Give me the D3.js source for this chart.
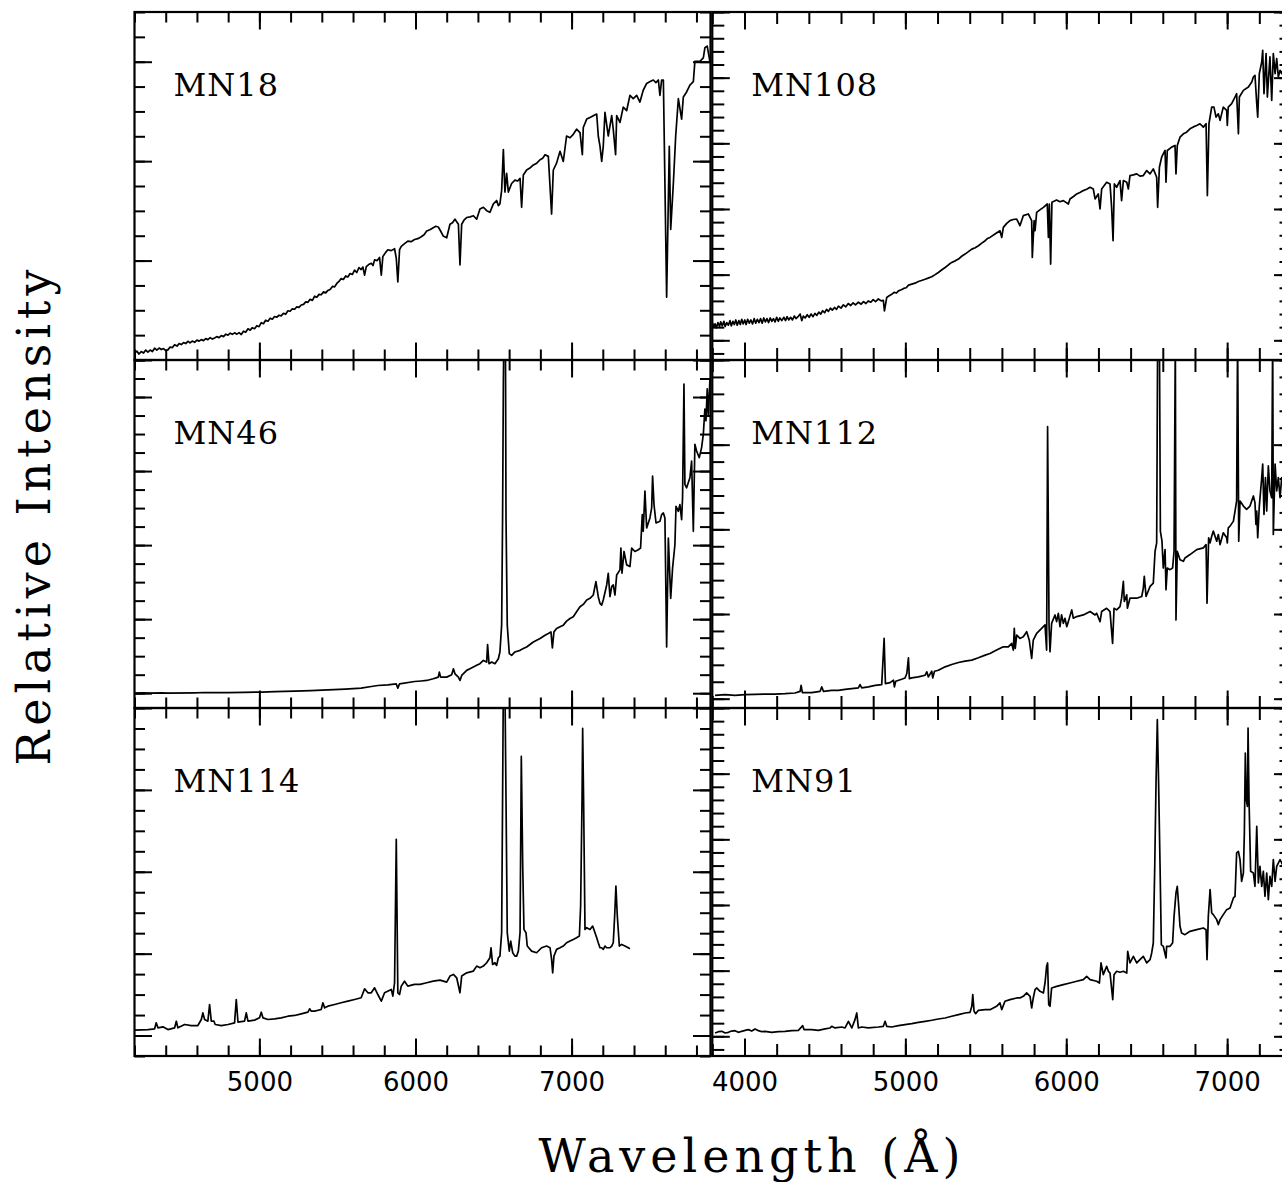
<!DOCTYPE html>
<html lang="en">
<head>
<meta charset="utf-8">
<script src="https://d3js.org/d3.v7.min.js"></script>
<style>
  body { margin: 0; background: #fff; }
</style>
</head>
<body>
<svg width="1282" height="1182"></svg>
<script>
// spectra as [wavelength (A), relative intensity]
var mn18 = [[4201,0.068],[4215,0.09],[4228,0.06],[4243,0.085],[4258,0.07],[4272,0.10],[4286,0.08],[4300,0.10],[4315,0.085],[4329,0.119],[4343,0.10],[4358,0.12],[4372,0.105],[4386,0.115],[4400,0.095],[4414,0.102],[4428,0.13],[4443,0.125],[4457,0.154],[4472,0.14],[4486,0.165],[4500,0.155],[4514,0.175],[4528,0.165],[4542,0.188],[4556,0.172],[4570,0.19],[4585,0.178],[4600,0.20],[4614,0.19],[4628,0.205],[4642,0.195],[4656,0.215],[4670,0.205],[4685,0.225],[4699,0.21],[4713,0.222],[4727,0.235],[4742,0.225],[4756,0.246],[4770,0.235],[4785,0.26],[4799,0.25],[4813,0.27],[4827,0.258],[4841,0.273],[4856,0.26],[4870,0.275],[4884,0.256],[4898,0.29],[4912,0.28],[4927,0.314],[4941,0.30],[4955,0.325],[4969,0.315],[4984,0.345],[4998,0.335],[5012,0.375],[5026,0.365],[5040,0.40],[5055,0.39],[5069,0.42],[5083,0.41],[5097,0.437],[5111,0.43],[5126,0.45],[5140,0.444],[5154,0.47],[5168,0.46],[5183,0.495],[5197,0.49],[5211,0.515],[5226,0.51],[5240,0.535],[5254,0.53],[5268,0.553],[5283,0.56],[5297,0.585],[5311,0.58],[5325,0.61],[5340,0.60],[5354,0.642],[5368,0.63],[5382,0.66],[5396,0.656],[5411,0.685],[5425,0.675],[5439,0.70],[5453,0.71],[5468,0.74],[5482,0.735],[5496,0.77],[5510,0.79],[5524,0.819],[5538,0.81],[5553,0.845],[5567,0.835],[5581,0.87],[5596,0.86],[5610,0.904],[5624,0.88],[5638,0.93],[5652,0.91],[5663,0.935],[5674,0.853],[5685,0.939],[5700,0.96],[5717,0.973],[5728,0.95],[5738,1.007],[5755,1.00],[5770,1.031],[5781,0.853],[5791,1.041],[5808,1.08],[5823,1.109],[5845,1.10],[5866,1.119],[5877,1.024],[5887,0.785],[5898,1.109],[5909,1.143],[5930,1.17],[5951,1.195],[5972,1.19],[5994,1.212],[6015,1.22],[6037,1.24],[6055,1.26],[6072,1.297],[6092,1.31],[6114,1.331],[6130,1.345],[6146,1.338],[6160,1.30],[6178,1.246],[6200,1.229],[6221,1.365],[6237,1.38],[6253,1.416],[6275,1.365],[6285,0.956],[6296,1.365],[6312,1.41],[6328,1.433],[6350,1.44],[6371,1.451],[6392,1.416],[6413,1.519],[6435,1.536],[6456,1.502],[6477,1.485],[6499,1.570],[6520,1.604],[6531,1.553],[6541,1.570],[6552,1.706],[6563,2.116],[6573,1.689],[6584,1.877],[6595,1.689],[6616,1.775],[6637,1.809],[6655,1.80],[6670,1.826],[6680,1.536],[6691,1.860],[6712,1.911],[6733,1.93],[6755,1.962],[6777,1.98],[6798,2.014],[6815,2.03],[6830,2.065],[6851,2.048],[6872,1.468],[6883,1.911],[6904,1.980],[6926,2.099],[6947,1.997],[6968,2.253],[6990,2.235],[7011,2.270],[7032,2.321],[7054,2.287],[7069,2.065],[7075,2.338],[7097,2.423],[7118,2.44],[7139,2.457],[7161,2.474],[7171,2.253],[7182,2.150],[7193,1.997],[7203,2.150],[7214,2.491],[7235,2.253],[7257,2.457],[7267,2.321],[7282,2.065],[7289,2.457],[7310,2.389],[7331,2.543],[7353,2.509],[7374,2.662],[7395,2.628],[7417,2.662],[7438,2.594],[7459,2.713],[7481,2.782],[7503,2.80],[7524,2.816],[7540,2.79],[7556,2.816],[7566,2.662],[7577,2.816],[7588,2.816],[7609,0.631],[7626,2.150],[7635,1.314],[7652,1.775],[7667,2.253],[7684,2.628],[7705,2.423],[7716,2.645],[7737,2.696],[7758,2.765],[7780,2.799],[7790,3.003],[7822,3.003],[7844,3.038],[7854,3.140],[7869,3.157],[7886,3.003]];

var mn46 = [[4201,0.0],[4250,0.005],[4300,0.0],[4372,0.005],[4420,0.002],[4585,0.005],[4650,0.009],[4799,0.009],[4900,0.012],[5012,0.014],[5100,0.02],[5226,0.027],[5330,0.036],[5439,0.045],[5550,0.055],[5652,0.068],[5717,0.09],[5759,0.104],[5823,0.113],[5877,0.125],[5887,0.068],[5898,0.127],[5994,0.158],[6037,0.165],[6072,0.172],[6114,0.195],[6146,0.217],[6153,0.285],[6161,0.217],[6200,0.217],[6232,0.249],[6243,0.330],[6253,0.262],[6275,0.217],[6285,0.172],[6296,0.240],[6328,0.308],[6349,0.330],[6371,0.353],[6392,0.376],[6413,0.398],[6435,0.443],[6456,0.421],[6462,0.656],[6471,0.398],[6488,0.421],[6509,0.398],[6531,0.466],[6541,0.557],[6552,0.919],[6558,2.367],[6563,4.176],[6567,5.0],[6576,5.0],[6580,2.367],[6588,0.919],[6601,0.534],[6616,0.511],[6637,0.557],[6670,0.579],[6691,0.602],[6712,0.624],[6755,0.692],[6798,0.738],[6830,0.783],[6851,0.805],[6868,0.828],[6877,0.611],[6887,0.828],[6904,0.873],[6926,0.896],[6947,0.919],[6968,0.973],[6990,1.009],[7011,1.032],[7032,1.100],[7054,1.167],[7075,1.199],[7097,1.258],[7118,1.281],[7139,1.326],[7156,1.507],[7171,1.303],[7182,1.213],[7193,1.190],[7203,1.258],[7225,1.462],[7235,1.620],[7246,1.303],[7257,1.439],[7267,1.462],[7278,1.326],[7289,1.597],[7310,1.665],[7316,1.959],[7323,1.620],[7336,1.914],[7353,1.733],[7374,1.710],[7385,1.959],[7406,1.914],[7427,1.937],[7442,1.959],[7453,2.412],[7459,2.186],[7470,2.729],[7481,2.231],[7502,2.367],[7513,2.502],[7519,2.932],[7528,2.548],[7541,2.299],[7566,2.321],[7577,2.412],[7588,2.434],[7598,2.367],[7609,0.624],[7620,2.095],[7635,1.281],[7647,1.688],[7662,2.005],[7669,2.525],[7684,2.457],[7694,2.548],[7705,2.344],[7711,2.638],[7720,4.176],[7726,2.819],[7737,2.774],[7758,2.910],[7769,3.136],[7780,2.186],[7790,3.362],[7801,3.271],[7818,3.181],[7833,3.317],[7844,3.498],[7854,3.837],[7861,3.679],[7869,4.109],[7876,3.747],[7886,4.222],[7897,3.814]];

var mn114 = [[4201,0.065],[4286,0.073],[4329,0.082],[4339,0.155],[4350,0.094],[4382,0.106],[4414,0.073],[4457,0.094],[4468,0.175],[4478,0.094],[4521,0.135],[4564,0.122],[4606,0.122],[4628,0.196],[4638,0.277],[4649,0.196],[4670,0.175],[4681,0.379],[4692,0.175],[4709,0.175],[4717,0.135],[4756,0.122],[4799,0.135],[4841,0.155],[4852,0.440],[4863,0.163],[4905,0.175],[4916,0.277],[4927,0.175],[4969,0.188],[5001,0.216],[5012,0.285],[5023,0.216],[5055,0.196],[5097,0.204],[5140,0.216],[5183,0.236],[5226,0.245],[5268,0.265],[5311,0.285],[5322,0.326],[5332,0.298],[5354,0.298],[5396,0.318],[5407,0.400],[5418,0.338],[5439,0.359],[5482,0.379],[5524,0.400],[5567,0.420],[5610,0.440],[5652,0.461],[5674,0.571],[5695,0.522],[5717,0.522],[5738,0.583],[5759,0.501],[5781,0.420],[5802,0.522],[5845,0.563],[5855,0.481],[5866,0.644],[5877,2.397],[5887,0.522],[5898,0.501],[5909,0.603],[5930,0.664],[5951,0.603],[5994,0.624],[6029,0.624],[6072,0.644],[6114,0.664],[6157,0.677],[6200,0.652],[6221,0.726],[6243,0.746],[6264,0.705],[6285,0.522],[6296,0.726],[6328,0.766],[6371,0.787],[6392,0.848],[6413,0.828],[6435,0.848],[6456,0.889],[6477,0.950],[6484,1.072],[6494,0.868],[6509,0.889],[6520,0.856],[6531,0.950],[6541,0.970],[6552,1.256],[6558,2.886],[6563,4.3],[6573,4.3],[6580,2.886],[6588,1.256],[6601,1.031],[6610,1.154],[6623,1.011],[6637,0.970],[6648,0.970],[6659,1.031],[6670,1.256],[6678,3.408],[6687,2.071],[6695,1.296],[6708,1.256],[6716,1.093],[6744,1.031],[6776,1.011],[6808,1.072],[6840,1.093],[6862,1.072],[6872,0.929],[6879,0.766],[6887,0.970],[6904,1.052],[6926,1.072],[6947,1.093],[6968,1.133],[6990,1.154],[7011,1.174],[7032,1.194],[7050,1.215],[7058,1.582],[7067,2.886],[7071,3.750],[7077,2.886],[7086,1.296],[7097,1.317],[7118,1.296],[7135,1.337],[7150,1.256],[7161,1.194],[7171,1.133],[7182,1.072],[7193,1.072],[7203,1.052],[7214,1.093],[7225,1.072],[7246,1.072],[7257,1.093],[7267,1.133],[7276,1.459],[7284,1.826],[7293,1.459],[7306,1.093],[7321,1.113],[7342,1.093],[7363,1.072],[7374,1.060]];

var mn108 = [[3800,0.27],[3810,0.20],[3817,0.25],[3826,0.19],[3835,0.27],[3845,0.21],[3852,0.28],[3862,0.22],[3872,0.29],[3880,0.21],[3890,0.27],[3900,0.23],[3910,0.30],[3918,0.22],[3928,0.29],[3937,0.24],[3946,0.31],[3955,0.23],[3965,0.30],[3974,0.24],[3983,0.32],[3992,0.25],[4002,0.31],[4010,0.24],[4020,0.32],[4030,0.26],[4040,0.31],[4050,0.25],[4060,0.33],[4070,0.26],[4080,0.32],[4090,0.27],[4100,0.33],[4110,0.26],[4120,0.34],[4130,0.28],[4140,0.33],[4150,0.27],[4160,0.34],[4170,0.29],[4180,0.33],[4190,0.28],[4200,0.35],[4210,0.29],[4220,0.34],[4232,0.30],[4245,0.35],[4255,0.30],[4265,0.36],[4275,0.31],[4287,0.35],[4298,0.31],[4310,0.37],[4320,0.33],[4333,0.36],[4346,0.40],[4356,0.30],[4366,0.37],[4377,0.34],[4390,0.39],[4402,0.35],[4414,0.40],[4426,0.36],[4438,0.41],[4450,0.38],[4462,0.43],[4474,0.40],[4486,0.45],[4498,0.42],[4510,0.47],[4522,0.44],[4534,0.49],[4546,0.46],[4560,0.50],[4572,0.47],[4584,0.52],[4600,0.49],[4615,0.54],[4630,0.51],[4645,0.56],[4660,0.53],[4675,0.57],[4690,0.54],[4708,0.58],[4725,0.55],[4740,0.59],[4755,0.56],[4770,0.60],[4785,0.58],[4800,0.62],[4815,0.59],[4832,0.63],[4850,0.60],[4863,0.61],[4870,0.448],[4884,0.651],[4900,0.68],[4915,0.70],[4930,0.73],[4945,0.72],[4957,0.753],[4975,0.77],[4990,0.79],[5005,0.80],[5020,0.84],[5040,0.855],[5060,0.87],[5081,0.896],[5100,0.91],[5123,0.931],[5145,0.95],[5164,0.967],[5185,1.00],[5205,1.033],[5225,1.07],[5247,1.109],[5268,1.15],[5288,1.186],[5310,1.21],[5330,1.237],[5350,1.28],[5371,1.313],[5392,1.35],[5413,1.389],[5434,1.41],[5454,1.440],[5475,1.48],[5496,1.517],[5510,1.55],[5526,1.567],[5557,1.618],[5588,1.669],[5599,1.567],[5609,1.720],[5630,1.78],[5650,1.822],[5670,1.84],[5692,1.847],[5712,1.746],[5733,1.898],[5764,1.924],[5785,1.822],[5789,1.262],[5800,1.822],[5806,1.669],[5816,1.949],[5838,1.99],[5858,2.025],[5882,2.076],[5889,1.567],[5895,2.076],[5903,1.160],[5911,2.102],[5940,2.137],[5960,2.11],[5982,2.127],[6013,2.076],[6023,2.153],[6045,2.19],[6065,2.229],[6085,2.25],[6106,2.280],[6127,2.30],[6148,2.331],[6168,2.305],[6179,2.153],[6199,2.229],[6210,2.000],[6220,2.305],[6251,2.407],[6272,2.382],[6282,2.025],[6291,1.517],[6299,2.382],[6313,2.331],[6334,2.433],[6344,2.127],[6355,2.433],[6376,2.407],[6386,2.305],[6396,2.509],[6417,2.52],[6438,2.534],[6458,2.50],[6479,2.509],[6500,2.585],[6521,2.534],[6541,2.611],[6562,2.483],[6568,2.025],[6579,2.636],[6593,2.789],[6614,2.891],[6620,2.407],[6628,2.891],[6655,2.942],[6676,2.967],[6682,2.534],[6690,2.967],[6707,3.094],[6728,3.145],[6748,3.170],[6769,3.221],[6790,3.25],[6811,3.272],[6831,3.298],[6852,3.247],[6869,3.298],[6877,2.204],[6887,3.298],[6904,3.552],[6918,3.552],[6931,3.399],[6945,3.450],[6956,3.349],[6976,3.552],[6997,3.501],[7001,3.272],[7007,3.552],[7028,3.603],[7049,3.705],[7059,3.756],[7070,3.145],[7076,3.705],[7101,3.807],[7132,3.858],[7153,3.934],[7163,4.010],[7173,4.036],[7184,3.603],[7190,3.399],[7200,4.061],[7215,4.239],[7221,4.417],[7229,3.756],[7242,4.366],[7250,3.705],[7266,4.316],[7277,3.654],[7287,4.366],[7298,4.061],[7308,4.290],[7318,4.010],[7329,4.112],[7339,4.061],[7360,4.2]];

var mn112 = [[3817,0.040],[3879,0.047],[3941,0.040],[4004,0.047],[4066,0.051],[4128,0.055],[4190,0.055],[4252,0.059],[4314,0.067],[4346,0.087],[4352,0.158],[4360,0.071],[4418,0.071],[4470,0.087],[4480,0.139],[4491,0.087],[4542,0.099],[4584,0.099],[4625,0.111],[4667,0.119],[4708,0.127],[4718,0.166],[4729,0.127],[4770,0.139],[4812,0.158],[4853,0.166],[4868,0.712],[4876,0.178],[4905,0.190],[4926,0.218],[4932,0.139],[4940,0.206],[4977,0.230],[4998,0.245],[5009,0.297],[5019,0.483],[5025,0.237],[5040,0.245],[5081,0.257],[5123,0.277],[5133,0.317],[5143,0.257],[5164,0.324],[5170,0.245],[5181,0.324],[5205,0.336],[5247,0.376],[5288,0.404],[5330,0.427],[5371,0.443],[5413,0.455],[5454,0.483],[5496,0.514],[5526,0.534],[5567,0.574],[5609,0.613],[5640,0.613],[5661,0.653],[5671,0.574],[5677,0.831],[5683,0.594],[5692,0.752],[5712,0.712],[5733,0.732],[5754,0.791],[5770,0.693],[5785,0.475],[5795,0.693],[5816,0.772],[5847,0.831],[5868,0.871],[5878,0.574],[5884,3.213],[5893,0.871],[5899,0.554],[5909,0.890],[5930,0.989],[5940,0.910],[5951,1.009],[5961,0.851],[5971,0.989],[5982,0.890],[5992,0.950],[6003,0.851],[6013,0.910],[6034,1.049],[6044,0.950],[6065,0.970],[6106,0.989],[6148,1.029],[6179,0.989],[6189,1.009],[6210,0.910],[6220,1.029],[6251,1.068],[6272,1.029],[6288,0.653],[6297,1.068],[6313,1.049],[6334,1.088],[6344,1.187],[6355,1.385],[6361,1.148],[6376,1.227],[6380,1.068],[6396,1.187],[6438,1.187],[6469,1.207],[6479,1.306],[6485,1.444],[6496,1.207],[6521,1.326],[6541,1.365],[6552,1.741],[6562,1.840],[6568,4.3],[6579,4.3],[6585,1.979],[6595,1.860],[6603,1.543],[6614,1.761],[6620,1.286],[6628,1.543],[6645,1.524],[6661,1.543],[6670,1.741],[6678,4.3],[6682,0.930],[6690,1.741],[6707,1.642],[6728,1.622],[6738,1.662],[6769,1.702],[6811,1.761],[6852,1.781],[6869,1.820],[6875,1.128],[6885,1.900],[6894,1.840],[6904,1.919],[6914,1.979],[6935,1.860],[6945,1.939],[6956,1.820],[6976,1.959],[6997,1.900],[7001,1.840],[7007,2.018],[7018,2.038],[7039,2.097],[7049,2.216],[7059,2.335],[7065,4.3],[7072,1.860],[7080,2.335],[7101,2.275],[7121,2.236],[7142,2.275],[7163,2.394],[7173,2.315],[7179,2.058],[7184,2.216],[7190,1.900],[7200,2.275],[7215,2.612],[7221,2.770],[7229,2.176],[7238,2.612],[7246,2.216],[7256,2.750],[7266,2.454],[7277,2.374],[7283,4.3],[7287,1.940],[7298,2.770],[7308,2.454],[7318,2.612],[7329,2.374],[7339,2.612],[7360,2.5]];

var mn91 = [[3817,0.051],[3838,0.07],[3859,0.076],[3880,0.05],[3900,0.061],[3920,0.08],[3941,0.086],[3962,0.06],[3983,0.076],[4004,0.09],[4024,0.102],[4045,0.08],[4066,0.112],[4087,0.086],[4108,0.07],[4128,0.076],[4169,0.061],[4211,0.071],[4252,0.076],[4294,0.086],[4335,0.091],[4362,0.162],[4370,0.102],[4418,0.102],[4459,0.091],[4501,0.112],[4532,0.127],[4542,0.152],[4563,0.127],[4605,0.142],[4625,0.127],[4646,0.228],[4667,0.127],[4687,0.254],[4698,0.355],[4708,0.127],[4729,0.142],[4770,0.127],[4832,0.142],[4863,0.152],[4874,0.228],[4884,0.152],[4915,0.142],[4957,0.162],[4998,0.178],[5040,0.193],[5081,0.213],[5123,0.228],[5164,0.244],[5205,0.264],[5247,0.279],[5288,0.305],[5330,0.330],[5371,0.355],[5402,0.365],[5413,0.457],[5419,0.635],[5427,0.381],[5437,0.345],[5454,0.396],[5496,0.406],[5526,0.406],[5567,0.457],[5588,0.508],[5599,0.406],[5619,0.533],[5650,0.558],[5692,0.584],[5712,0.584],[5733,0.609],[5754,0.660],[5775,0.609],[5785,0.431],[5795,0.584],[5806,0.711],[5816,0.736],[5837,0.685],[5858,0.660],[5868,0.812],[5878,1.066],[5884,1.117],[5891,0.482],[5899,0.457],[5909,0.736],[5940,0.761],[5982,0.787],[6023,0.812],[6065,0.838],[6106,0.863],[6127,0.914],[6148,0.863],[6189,0.838],[6206,0.812],[6216,1.117],[6230,0.939],[6251,1.066],[6262,0.990],[6272,0.964],[6289,0.558],[6297,0.939],[6313,0.990],[6334,0.975],[6355,0.990],[6376,0.964],[6382,1.294],[6396,1.117],[6417,1.218],[6438,1.117],[6458,1.168],[6479,1.218],[6500,1.117],[6521,1.168],[6531,1.269],[6541,1.421],[6550,2.589],[6558,3.858],[6566,4.822],[6574,3.858],[6583,2.589],[6591,1.396],[6603,1.371],[6620,1.193],[6624,1.371],[6645,1.371],[6661,1.421],[6670,1.827],[6682,2.183],[6690,2.284],[6699,1.980],[6707,1.675],[6717,1.574],[6738,1.548],[6769,1.599],[6811,1.624],[6852,1.650],[6869,1.624],[6875,1.168],[6883,1.827],[6894,2.234],[6904,1.878],[6914,1.853],[6935,1.777],[6945,1.701],[6956,1.777],[6976,1.853],[6997,1.929],[7018,1.954],[7039,2.107],[7049,2.132],[7059,2.792],[7070,2.817],[7080,2.690],[7090,2.360],[7101,2.487],[7107,3.096],[7113,4.315],[7119,3.604],[7126,3.503],[7130,4.695],[7136,3.604],[7146,2.513],[7163,2.487],[7173,2.284],[7184,3.198],[7194,2.335],[7204,2.589],[7215,2.284],[7225,2.513],[7235,2.132],[7246,2.487],[7256,2.081],[7266,2.437],[7277,2.284],[7287,2.690],[7298,2.360],[7308,2.589],[7329,2.690],[7339,2.640],[7360,2.55]];

var leftTickLabels = [5000, 6000, 7000];
var rightTickLabels = [4000, 5000, 6000, 7000];

var columns = [
  {x0: 134.5, x1: 710.5, domain: [4200, 7890], labels: leftTickLabels},
  {x0: 712.3, x1: 1291.5, domain: [3800, 7400], labels: rightTickLabels}
];
var top0 = 12, panelH = 348;

var panels = [
  {name: "MN18",  data: mn18,  col: 0, row: 0, y: [0, 3.5],      yMinor: 0.25},
  {name: "MN46",  data: mn46,  col: 0, row: 1, y: [-0.2, 4.5],   yMinor: 0.25},
  {name: "MN114", data: mn114, col: 0, row: 2, y: [-0.25, 4.0],  yMinor: 0.25},
  {name: "MN108", data: mn108, col: 1, row: 0, y: [-0.3, 5.0],   yMinor: 0.2},
  {name: "MN112", data: mn112, col: 1, row: 1, y: [-0.11, 4.0],  yMinor: 0.2},
  {name: "MN91",  data: mn91,  col: 1, row: 2, y: [-0.3, 5.0],   yMinor: 0.2}
];

var svg = d3.select("svg");

function steps(d0, d1, step) {
  var out = [];
  for (var v = Math.ceil(d0 / step - 1e-6) * step; v <= d1 + 1e-6; v += step)
    out.push(Math.round(v * 1000) / 1000);
  return out;
}

function ticks(g, axisFn, scale, values, size, tr) {
  g.append("g").attr("transform", tr)
    .call(axisFn(scale).tickValues(values).tickSize(size).tickFormat(""))
    .call(function(a) { a.select(".domain").remove(); })
    .selectAll("line").attr("stroke", "#000").attr("stroke-width", 2);
}

panels.forEach(function(p, i) {
  var c = columns[p.col];
  var y0 = top0 + p.row * panelH, y1 = y0 + panelH;
  var x = d3.scaleLinear().domain(c.domain).range([c.x0, c.x1]);
  var y = d3.scaleLinear().domain(p.y).range([y1, y0]);
  var g = svg.append("g");

  g.append("clipPath").attr("id", "clip" + i)
    .append("rect").attr("x", c.x0).attr("y", y0)
    .attr("width", c.x1 - c.x0).attr("height", panelH);

  g.append("path")
    .datum(p.data)
    .attr("clip-path", "url(#clip" + i + ")")
    .attr("fill", "none")
    .attr("stroke", "#000")
    .attr("stroke-width", 1.7)
    .attr("stroke-linejoin", "round")
    .attr("d", d3.line().x(function(d) { return x(d[0]); }).y(function(d) { return y(d[1]); }));

  var xMinor = steps(c.domain[0], c.domain[1], 200);
  var xMajor = steps(c.domain[0], c.domain[1], 1000);
  var yMinorV = steps(p.y[0], p.y[1], p.yMinor);
  var yMajorV = steps(p.y[0], p.y[1], 1);
  var mn = p.col === 0 ? -10.5 : -12, mj = -17.5;

  ticks(g, d3.axisBottom, x, xMinor, mn, "translate(0," + y1 + ")");
  ticks(g, d3.axisBottom, x, xMajor, mj, "translate(0," + y1 + ")");
  ticks(g, d3.axisTop, x, xMinor, mn, "translate(0," + y0 + ")");
  ticks(g, d3.axisTop, x, xMajor, mj, "translate(0," + y0 + ")");
  ticks(g, d3.axisLeft, y, yMinorV, mn, "translate(" + c.x0 + ",0)");
  ticks(g, d3.axisLeft, y, yMajorV, mj, "translate(" + c.x0 + ",0)");
  ticks(g, d3.axisRight, y, yMinorV, mn, "translate(" + c.x1 + ",0)");
  ticks(g, d3.axisRight, y, yMajorV, mj, "translate(" + c.x1 + ",0)");

  g.append("rect")
    .attr("x", c.x0).attr("y", y0)
    .attr("width", c.x1 - c.x0).attr("height", panelH)
    .attr("fill", "none").attr("stroke", "#000").attr("stroke-width", 2.2);

  g.append("text")
    .attr("x", c.x0 + 39).attr("y", y0 + 84)
    .attr("font-family", "DejaVu Serif")
    .attr("font-size", 32)
    .attr("letter-spacing", 1)
    .text(p.name);

  if (p.row === 2) {
    g.append("g").attr("transform", "translate(0," + y1 + ")")
      .call(d3.axisBottom(x).tickValues(c.labels).tickSize(0).tickPadding(17).tickFormat(d3.format("d")))
      .call(function(a) { a.select(".domain").remove(); })
      .selectAll("text")
      .attr("font-family", "DejaVu Sans")
      .attr("font-size", 26)
      .attr("fill", "#000");
  }
});

svg.append("text")
  .attr("x", 752).attr("y", 1172)
  .attr("text-anchor", "middle")
  .attr("font-family", "DejaVu Serif")
  .attr("font-size", 46)
  .attr("letter-spacing", 5)
  .text("Wavelength (Å)");

svg.append("text")
  .attr("transform", "translate(50,515) rotate(-90)")
  .attr("text-anchor", "middle")
  .attr("font-family", "DejaVu Serif")
  .attr("font-size", 46)
  .attr("letter-spacing", 5)
  .text("Relative Intensity");
</script>
</body>
</html>
